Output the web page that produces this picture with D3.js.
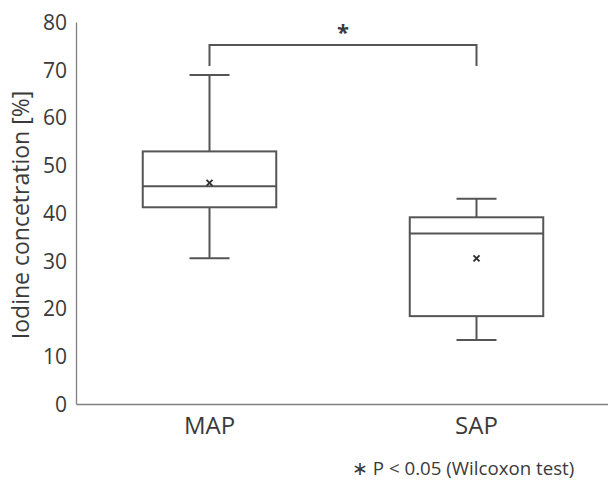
<!DOCTYPE html>
<html><head><meta charset="utf-8">
<script src="https://cdn.jsdelivr.net/npm/d3@7"></script>
<style>body{margin:0;background:#fff}text{font-family:"Open Sans",sans-serif;fill:#3a3a3a}</style>
</head><body><svg id="c" width="608" height="485"></svg>
<script>
const categories = ["MAP", "SAP"];
const whiskerLow = [30.5, 13.4];
const q1 = [41.2, 18.4];
const median = [45.6, 35.7];
const q3 = [52.9, 39.1];
const whiskerHigh = [68.9, 43.0];
const mean = [46.3, 30.5];
const yTicks = [0, 10, 20, 30, 40, 50, 60, 70, 80];

const svg = d3.select("#c");
const x = d3.scaleBand().domain(categories).range([76, 610]).paddingInner(0).paddingOuter(0);
const y = d3.scaleLinear().domain([0, 80]).range([404, 22]);
const stroke = "#555";

// axes
const yAxis = svg.append("g").attr("transform", "translate(76,0)")
  .call(d3.axisLeft(y).tickValues(yTicks).tickSize(0).tickPadding(9));
yAxis.select(".domain").attr("stroke", "#808080").attr("stroke-width", 1.3);
yAxis.selectAll("text").style("font-size", "21px").attr("dy", "0.35em");

const xAxis = svg.append("g").attr("transform", "translate(0,404)")
  .call(d3.axisBottom(x).tickSize(0).tickPadding(13));
xAxis.select(".domain").attr("stroke", "#808080").attr("stroke-width", 1.3);
xAxis.selectAll("text").style("font-size", "24px");

svg.append("text").attr("transform", "translate(29,215) rotate(-90)")
  .attr("text-anchor", "middle").style("font-size", "23px").text("Iodine concetration [%]");

const bw = x.bandwidth() * 0.5;
const capW = 40;
categories.forEach((c, i) => {
  const cx = x(c) + x.bandwidth() / 2;
  const g = svg.append("g").attr("stroke", stroke).attr("stroke-width", 2).attr("fill", "none");
  g.append("line").attr("x1", cx).attr("x2", cx).attr("y1", y(whiskerHigh[i])).attr("y2", y(q3[i]));
  g.append("line").attr("x1", cx).attr("x2", cx).attr("y1", y(q1[i])).attr("y2", y(whiskerLow[i]));
  g.append("line").attr("x1", cx - capW / 2).attr("x2", cx + capW / 2).attr("y1", y(whiskerHigh[i])).attr("y2", y(whiskerHigh[i]));
  g.append("line").attr("x1", cx - capW / 2).attr("x2", cx + capW / 2).attr("y1", y(whiskerLow[i])).attr("y2", y(whiskerLow[i]));
  g.append("rect").attr("x", cx - bw / 2).attr("width", bw).attr("y", y(q3[i])).attr("height", y(q1[i]) - y(q3[i]));
  g.append("line").attr("x1", cx - bw / 2).attr("x2", cx + bw / 2).attr("y1", y(median[i])).attr("y2", y(median[i]));
  const m = 3, my = y(mean[i]);
  g.append("path").attr("d", `M${cx - m},${my - m}L${cx + m},${my + m}M${cx - m},${my + m}L${cx + m},${my - m}`)
    .attr("stroke", "#333").attr("stroke-width", 2);
});

// significance bracket
const x1 = x("MAP") + x.bandwidth() / 2, x2 = x("SAP") + x.bandwidth() / 2;
svg.append("path").attr("d", `M${x1},66V45H${x2}V66`).attr("fill", "none").attr("stroke", stroke).attr("stroke-width", 2);
svg.append("text").attr("x", (x1 + x2) / 2).attr("y", 40).attr("text-anchor", "middle")
  .style("font-size", "22px").style("font-weight", "bold").text("*");

svg.append("text").attr("x", 352).attr("y", 475).style("font-size", "18.7px").text("∗ P < 0.05 (Wilcoxon test)");
</script></body></html>
